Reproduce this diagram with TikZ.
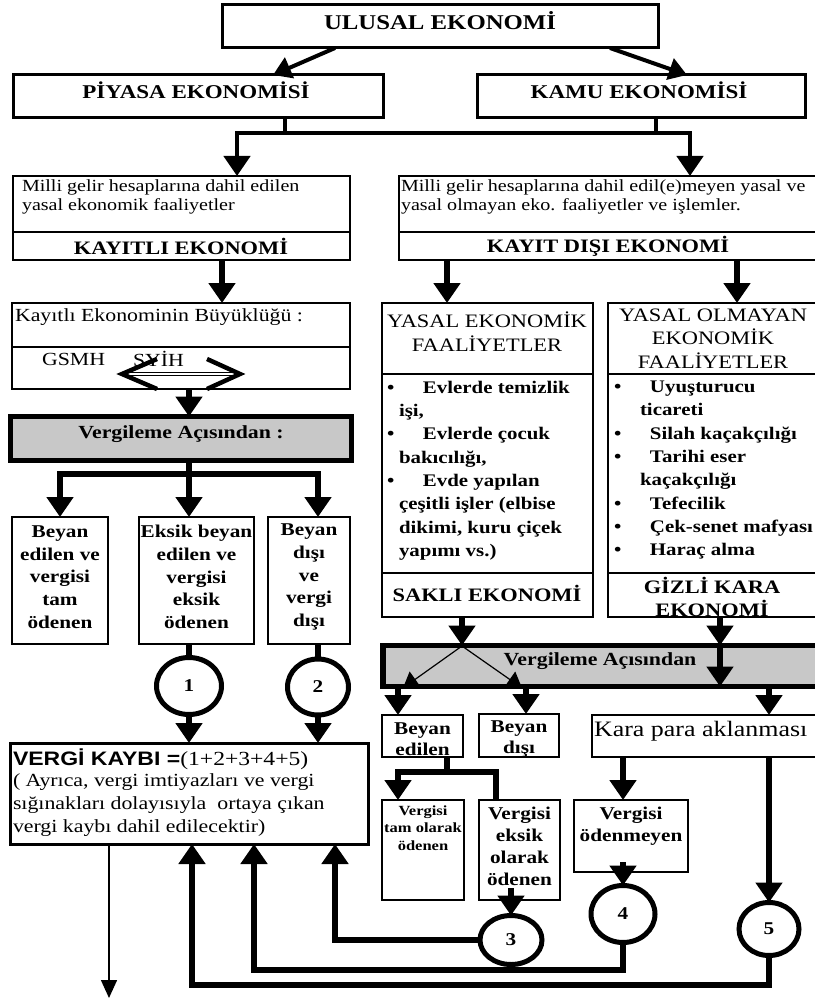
\documentclass[tikz,border=0pt]{standalone}
\usepackage{fontspec}
\setmainfont{Liberation Serif}[FakeStretch=1.18]
\newfontfamily\sansfnt{Liberation Sans}[FakeStretch=1.18]
\usetikzlibrary{arrows.meta,shapes.geometric,calc}
\definecolor{boxgray}{RGB}{200,200,200}
\newcommand\fsz[2]{\fontsize{#1}{#2}\selectfont}
\begin{document}
\begin{tikzpicture}[x=1pt,y=-1pt,
  box/.style={draw, line width=1.8pt, inner sep=0pt, outer sep=0pt},
  bigbox/.style={box, line width=3pt},
  graybox/.style={draw, fill=boxgray, line width=5.5pt, inner sep=0pt, outer sep=0pt},
  circ/.style={ellipse, draw, line width=5pt, inner sep=0pt, outer sep=0pt, font=\bfseries\fsz{18}{20}},
  txt/.style={inner sep=0pt, outer sep=0pt, align=center},
  divline/.style={line width=1.8pt},
  conn/.style={line width=5.5pt},
  arr/.style={conn, -{Triangle[length=20pt,width=26pt]}},
  topconn/.style={line width=4.5pt},
  toparr/.style={topconn, -{Triangle[length=20pt,width=26pt]}},
  diagarr/.style={line width=4pt, -{Triangle[length=18pt,width=22pt]}},
  thinarr/.style={line width=1.2pt, -{Triangle[length=15pt,width=19pt]}},
  outarr/.style={line width=1.5pt, -{Triangle[length=18pt,width=16pt]}},
]
\useasboundingbox (0,0) rectangle (814,1003);
\fill[white] (0,0) rectangle (814,1003);

% ---------- top level ----------
\node[bigbox, minimum width=436pt, minimum height=43pt] (ulusal) at (440,26.5) {};
\node[txt, font=\bfseries\fsz{21}{24}] (ulusalT) at (440,21) {ULUSAL EKONOMİ};
\node[bigbox, minimum width=370pt, minimum height=43pt] (piyasa) at (198,96.5) {};
\node[txt, font=\bfseries\fsz{19.5}{22}] (piyasaT) at (196,90) {PİYASA EKONOMİSİ};
\node[bigbox, minimum width=328pt, minimum height=43pt] (kamu) at (641,96.5) {};
\node[txt, font=\bfseries\fsz{19.5}{22}] (kamuT) at (639,90) {KAMU EKONOMİSİ};

% ---------- second level ----------
\node[box, minimum width=337pt, minimum height=84pt] (milliL) at (181.5,218) {};
\draw[divline] (milliL.west |- 0,232) -- (milliL.east |- 0,232);
\node[txt, anchor=west, align=left, font=\fsz{17}{19.5}] (milliLT) at (22,197) {Milli gelir hesaplarına dahil edilen\\yasal ekonomik faaliyetler};
\node[txt, font=\bfseries\fsz{19}{22}] (kayitliT) at (181,246) {KAYITLI EKONOMİ};

\node[box, minimum width=419pt, minimum height=84pt] (milliR) at (608.5,218) {};
\draw[divline] (milliR.west |- 0,232) -- (milliR.east |- 0,232);
\node[txt, anchor=west, align=left, font=\fsz{17}{19.5}] (milliRT) at (401,197) {Milli gelir hesaplarına dahil edil(e)meyen yasal ve\\yasal olmayan eko. faaliyetler ve işlemler.};
\node[txt, font=\bfseries\fsz{19}{22}] (kayitdisiT) at (608,246) {KAYIT DIŞI EKONOMİ};

% ---------- left column ----------
\node[box, minimum width=338pt, minimum height=86pt] (kayB) at (181,346) {};
\draw[divline] (kayB.west |- 0,347) -- (kayB.east |- 0,347);
\node[txt, anchor=west, font=\fsz{18.5}{21}] (kayBT) at (15,317) {Kayıtlı Ekonominin Büyüklüğü :};
\node[txt, anchor=west, font=\fsz{18.5}{21}] (gsmh) at (42,359) {GSMH};
\node[txt, anchor=west, font=\fsz{18.5}{21}] (syih) at (133,359) {SYİH};
\coordinate (dL) at (122,374);
\coordinate (dR) at (240,374);
\draw[line width=1.2pt, double, double distance=2.5pt] (dL) -- (dR);
\draw[line width=4.5pt] (157,359) -- (dL) -- (157,389);
\draw[line width=4.5pt] (207,359) -- (dR) -- (207,389);

\node[graybox, minimum width=341pt, minimum height=44pt] (verg1) at (181,438.5) {};
\node[txt, font=\bfseries\fsz{18.5}{21}] (verg1T) at (181,434) {Vergileme Açısından :};

\node[box, minimum width=96pt, minimum height=127pt] (b1) at (60,580.5) {};
\node[txt, font=\bfseries\fsz{18}{22.7}] (b1T) at (60,577) {Beyan\\edilen ve\\vergisi\\tam\\ödenen};
\node[box, minimum width=115pt, minimum height=127pt] (b2) at (196.5,580.5) {};
\node[txt, font=\bfseries\fsz{18}{22.7}] (b2T) at (196.5,577) {Eksik beyan\\edilen ve\\vergisi\\eksik\\ödenen};
\node[box, minimum width=82pt, minimum height=127pt] (b3) at (309,580.5) {};
\node[txt, font=\bfseries\fsz{18}{22.7}] (b3T) at (309,577) {Beyan\\dışı\\ve\\vergi\\dışı};

\node[circ, minimum width=65pt, minimum height=57pt] (c1) at (189,686) {1};
\node[circ, minimum width=61pt, minimum height=56pt] (c2) at (318,687) {2};

\node[bigbox, minimum width=358pt, minimum height=101pt] (vergi) at (189,793.5) {};
\node[txt, anchor=base west] (vergiT) at (13,765) {{\sansfnt\bfseries\fsz{19.5}{22}VERGİ KAYBI =}{\fsz{20}{22}(1+2+3+4+5)}};
\node[txt, anchor=north west, align=left, font=\fsz{18.5}{23}] (vergiP) at (13,774) {( Ayrıca, vergi imtiyazları ve vergi\\sığınakları dolayısıyla\ \ ortaya çıkan\\vergi kaybı dahil edilecektir)};

% ---------- right column ----------
\node[box, minimum width=211pt, minimum height=314pt] (yasal) at (487.5,460) {};
\draw[divline] (yasal.west |- 0,374) -- (yasal.east |- 0,374);
\draw[divline] (yasal.west |- 0,573) -- (yasal.east |- 0,573);
\node[txt, font=\fsz{19}{24}] (yasalT) at (487,332) {YASAL EKONOMİK\\FAALİYETLER};
\node[txt, anchor=north west, align=left, font=\bfseries\fsz{17.7}{23.3}] (listL) at (387,381) {%
\makebox[36pt][l]{•}Evlerde temizlik\\
\hspace*{12pt}işi,\\
\makebox[36pt][l]{•}Evlerde çocuk\\
\hspace*{12pt}bakıcılığı,\\
\makebox[36pt][l]{•}Evde yapılan\\
\hspace*{12pt}çeşitli işler (elbise\\
\hspace*{12pt}dikimi, kuru çiçek\\
\hspace*{12pt}yapımı vs.)};
\node[txt, font=\bfseries\fsz{19}{22}] (sakliT) at (487,593) {SAKLI EKONOMİ};

\node[box, minimum width=210pt, minimum height=314pt] (yasalO) at (713,460) {};
\draw[divline] (yasalO.west |- 0,374) -- (yasalO.east |- 0,374);
\draw[divline] (yasalO.west |- 0,573) -- (yasalO.east |- 0,573);
\node[txt, font=\fsz{19}{23.5}] (yasalOT) at (713,338.5) {YASAL OLMAYAN\\EKONOMİK\\FAALİYETLER};
\node[txt, anchor=north west, align=left, font=\bfseries\fsz{17.7}{23.3}] (listR) at (614,381) {%
\makebox[36pt][l]{•}Uyuşturucu\\
\hspace*{26pt}ticareti\\
\makebox[36pt][l]{•}Silah kaçakçılığı\\
\makebox[36pt][l]{•}Tarihi eser\\
\hspace*{26pt}kaçakçılığı\\
\makebox[36pt][l]{•}Tefecilik\\
\makebox[36pt][l]{•}Çek-senet mafyası\\
\makebox[36pt][l]{•}Haraç alma};
\node[txt, font=\bfseries\fsz{19}{23}] (gizliT) at (712,597) {GİZLİ KARA\\EKONOMİ};

\node[graybox, minimum width=437pt, minimum height=41pt] (verg2) at (601.5,666) {};
\node[txt, font=\bfseries\fsz{18.5}{21}] (verg2T) at (600,661) {Vergileme Açısından};

\node[box, minimum width=81pt, minimum height=42pt] (beyanEd) at (422.5,736) {};
\node[txt, font=\bfseries\fsz{18}{21}] (beyanEdT) at (422.5,739) {Beyan\\edilen};
\node[box, minimum width=80pt, minimum height=43pt] (beyanD) at (519,735.5) {};
\node[txt, font=\bfseries\fsz{18}{21}] (beyanDT) at (519,739) {Beyan\\dışı};
\node[box, minimum width=228pt, minimum height=42pt] (kara) at (706,736) {};
\node[txt, anchor=west, font=\fsz{22}{24}] (karaT) at (594,731) {Kara para aklanması};

\node[box, minimum width=82pt, minimum height=100pt] (tam) at (423,850) {};
\node[txt, font=\bfseries\fsz{14}{17.5}] (tamT) at (423,828) {Vergisi\\tam olarak\\ödenen};
\node[box, minimum width=81pt, minimum height=100pt] (eksik) at (519.5,850) {};
\node[txt, font=\bfseries\fsz{18}{22}] (eksikT) at (519.5,846) {Vergisi\\eksik\\olarak\\ödenen};
\node[box, minimum width=114pt, minimum height=72pt] (oden) at (631,836) {};
\node[txt, font=\bfseries\fsz{18}{22}] (odenT) at (631,826) {Vergisi\\ödenmeyen};

\node[circ, minimum width=62pt, minimum height=49pt] (c3) at (511,940) {3};
\node[circ, minimum width=64pt, minimum height=57pt] (c4) at (623,914) {4};
\node[circ, minimum width=60pt, minimum height=53pt] (c5) at (769,929) {5};

% ---------- connectors ----------
\draw[diagarr] (ulusal.south -| 335,0) -- (piyasa.north -| 273,0);
\draw[diagarr] (ulusal.south -| 610,0) -- (kamu.north -| 687,0);
\coordinate (topfork) at (463,133);
\draw[topconn] (piyasa.south -| 285,0) -- (topfork -| 285,0);
\draw[topconn] (kamu.south -| 656,0) -- (topfork -| 656,0);
\draw[toparr] (topfork) -| (milliL.north -| 237,0);
\draw[toparr] (topfork) -| (milliR.north -| 690,0);

\draw[arr] (milliL.south -| 222,0) -- (kayB.north -| 222,0);
\draw[arr] (kayB.south -| 189,0) -- (verg1.north -| 189,0);
\coordinate (lfork) at (189,474);
\draw[conn] (verg1.south -| lfork) -- (lfork);
\draw[arr] (lfork) -| (b1.north);
\draw[arr] (lfork) -| (b3.north -| c2);
\draw[arr] (lfork) -- (b2.north -| c1);
\draw[conn] (b2.south -| c1) -- (c1.north);
\draw[conn] (b3.south -| c2) -- (c2.north);
\draw[arr] (c1.south) -- (vergi.north -| c1);
\draw[arr] (c2.south) -- (vergi.north -| c2);

\draw[arr] (milliR.south -| 447,0) -- (yasal.north -| 447,0);
\draw[arr] (milliR.south -| 737,0) -- (yasalO.north -| 737,0);
\draw[arr] (yasal.south -| 462,0) -- (verg2.north -| 462,0);
\coordinate (apex) at (462,646);
\draw[thinarr] (apex) -- (403,688);
\draw[thinarr] (apex) -- (522,688);
\draw[arr] (verg2.south -| 398,0) -- (beyanEd.north -| 398,0);
\draw[arr] (verg2.south -| 526,0) -- (beyanD.north -| 526,0);
\draw[arr] (yasalO.south -| 720,0) -- (verg2.north -| 720,0);
\draw[arr] (verg2.north -| 720,0) -- (verg2.south -| 720,0);
\draw[arr] (verg2.south -| 769,0) -- (kara.north -| 769,0);

\coordinate (bfork) at (447,772);
\draw[conn] (beyanEd.south -| bfork) -- (bfork);
\draw[arr] (bfork) -| (tam.north -| 398,0);
\draw[conn] (bfork) -| (eksik.north -| 496,0);
\draw[arr] (kara.south -| c4) -- (oden.north -| c4);
\draw[arr] ($(eksik.south -| c3)+(0,-12)$) -- (c3.north);
\draw[arr] ($(oden.south -| c4)+(0,-10)$) -- (c4.north);
\draw[arr] (kara.south -| c5) -- (c5.north);

\draw[arr] (c3.west) -| (vergi.south -| 335,0);
\draw[arr] (c4.south) |- (254,970) -- (vergi.south -| 254,0);
\draw[arr] (c5.south) |- (192,985) -- (vergi.south -| 192,0);
\draw[outarr] (vergi.south -| 109,0) -- (109,998);
\end{tikzpicture}
\end{document}
